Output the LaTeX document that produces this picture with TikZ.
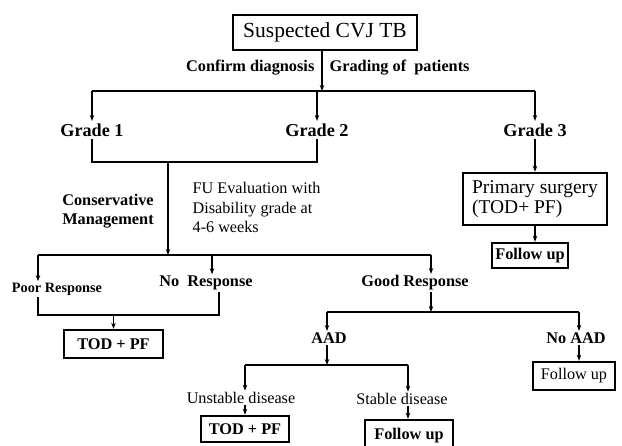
\documentclass[tikz,border=0pt]{standalone}
\usepackage{fontspec}
\setmainfont{Liberation Serif}
\usetikzlibrary{arrows.meta}

\begin{document}
\begin{tikzpicture}[x=1pt, y=-1pt, line width=1.3pt,
        arr/.style={-{Stealth[length=6pt, width=4.5pt]}},
        box/.style={draw, line width=2.4pt, inner sep=0pt},
        bold/.style={font=\fontsize{16.3}{19.5}\selectfont\bfseries, inner sep=1pt},
        plain/.style={font=\fontsize{16.2}{19.5}\selectfont, inner sep=1pt},
        grade/.style={font=\fontsize{18.2}{22}\selectfont\bfseries, inner sep=2pt}]
        \useasboundingbox (0,0) rectangle (622,446);

        % suspected case, confirmation and grading
        \node[box, minimum width=184pt, minimum height=35pt, font=\fontsize{21.5}{24}\selectfont] (cvj) at (325,32.5) {Suspected CVJ TB};
        \node[bold, anchor=east] (confirm) at (316,68) {Confirm diagnosis};
        \node[bold, anchor=west] (grading) at (328,68) {Grading of\ \ patients};
        \coordinate (top) at (322,91);
        \node[grade] (g1) at (92,130) {Grade 1};
        \node[grade] (g2) at (317,130) {Grade 2};
        \node[grade] (g3) at (535,130) {Grade 3};
        \draw[arr] (cvj.south -| top) -- (top);
        \draw (g1 |- top) -- (g3 |- top);
        \foreach \g in {g1,g2,g3}
            \draw[arr] (\g |- top) -- (\g.north);

        % grade 1 and 2: conservative management
        \coordinate (cons) at (168,162);
        \coordinate (resp) at (168,255);
        \draw (g1.south) |- (cons) -| (g2.south);
        \draw[arr] (cons) -- (resp);
        \node[bold, align=center] (manage) at (108,211) {Conservative\\Management};
        \node[plain, align=left, anchor=north west] (fueval) at (191,181) {FU Evaluation with\\Disability grade at\\4-6 weeks};

        % responses
        \coordinate (bpoor) at (38,255);
        \coordinate (bnone) at (212,255);
        \coordinate (bgood) at (431,255);
        \node[font=\fontsize{14.3}{17}\selectfont\bfseries, inner sep=1pt] (poor) at (57,289) {Poor Response};
        \node[bold] (none) at (206,283) {No\ \ Response};
        \node[bold] (good) at (415,283) {Good Response};
        \draw (bpoor) -- (bgood);
        \foreach \b/\n in {bpoor/poor, bnone/none, bgood/good}
            \draw[arr] (\b) -- (\b |- \n.north);

        % poor or no response
        \coordinate (mpoor) at (38,315);
        \coordinate (mnone) at (219,315);
        \node[box, bold, minimum width=99pt, minimum height=28pt] (tod1) at (113.5,344) {TOD + PF};
        \draw (poor.south -| mpoor) -- (mpoor) -- (mnone) -- (none.south -| mnone);
        \draw[arr] (mpoor -| tod1) -- (tod1.north);

        % good response
        \coordinate (baad) at (327,312);
        \coordinate (bnoaad) at (579,312);
        \node[bold] (aad) at (329,338) {AAD};
        \node[bold] (noaad) at (576,338) {No AAD};
        \draw[arr] (good.south -| bgood) -- (bgood |- baad);
        \draw (baad) -- (bnoaad);
        \draw[arr] (baad) -- (baad |- aad.north);
        \draw[arr] (bnoaad) -- (bnoaad |- noaad.north);
        \node[box, plain, minimum width=82pt, minimum height=28pt] (fu3) at (574,376) {Follow up};
        \draw[arr] (noaad.south -| bnoaad) -- (bnoaad |- fu3.north);

        % AAD: unstable or stable
        \coordinate (bunst) at (245,365);
        \coordinate (bstab) at (408,365);
        \node[plain] (unstable) at (241,398) {Unstable disease};
        \node[plain] (stable) at (402,399) {Stable disease};
        \draw[arr] (aad.south -| baad) -- (baad |- bunst);
        \draw (bunst) -- (bstab);
        \draw[arr] (bunst) -- (bunst |- unstable.north);
        \draw[arr] (bstab) -- (bstab |- stable.north);
        \node[box, bold, minimum width=88pt, minimum height=26pt] (tod2) at (245,429) {TOD + PF};
        \node[box, bold, minimum width=88pt, minimum height=32pt] (fu2) at (409,436) {Follow up};
        \draw[arr] (unstable.south -| tod2) -- (tod2.north);
        \draw[arr] (stable.south -| bstab) -- (bstab |- fu2.north);

        % grade 3: primary surgery
        \node[box, align=left, minimum width=144pt, minimum height=52pt, font=\fontsize{19.5}{20.5}\selectfont] (prim) at (535,199) {Primary surgery\\(TOD+ PF)};
        \node[box, bold, minimum width=76pt, minimum height=25pt] (fu1) at (530,255.5) {Follow up};
        \draw[arr] (g3.south) -- (prim.north);
        \draw[arr] (prim.south) -- (prim.south |- fu1.north);
    \end{tikzpicture}
\end{document}
